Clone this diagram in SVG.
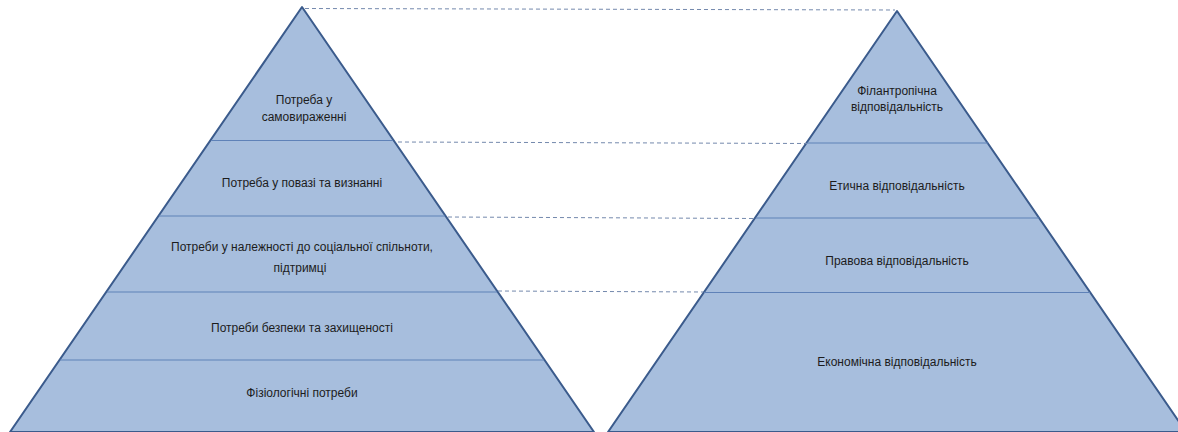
<svg xmlns="http://www.w3.org/2000/svg" width="1178" height="432" viewBox="0 0 1178 432">
<style>
.tri{fill:#a7bedd;stroke:#3b5b8c;stroke-width:2;stroke-linejoin:round}
.div{stroke:#5f82b8;stroke-width:1.2;fill:none}
.dash{stroke:#7489ad;stroke-width:1;stroke-dasharray:4 3;fill:none}
text{font-family:"Liberation Sans",Arial,sans-serif;font-size:12px;fill:#1c1c1c;text-anchor:middle}
</style>
<rect width="1178" height="432" fill="#ffffff"/>
<g id="left-pyramid">
<polygon class="tri" points="302,7 10,432 594,432"/>
<line class="div" x1="211" y1="140.5" x2="393" y2="140.5"/>
<line class="div" x1="159" y1="216" x2="445" y2="216"/>
<line class="div" x1="107" y1="292" x2="497" y2="292"/>
<line class="div" x1="60" y1="360" x2="544" y2="360"/>
</g>
<g id="right-pyramid">
<polygon class="tri" points="897,11 608,432 1186,432"/>
<line class="div" x1="807" y1="143" x2="988" y2="143"/>
<line class="div" x1="756" y1="218" x2="1039" y2="218"/>
<line class="div" x1="704" y1="292.5" x2="1090" y2="292.5"/>
</g>
<g id="connectors">
<line class="dash" x1="305" y1="8.5" x2="895" y2="10"/>
<line class="dash" x1="398" y1="142" x2="807" y2="143.5"/>
<line class="dash" x1="448" y1="217" x2="755" y2="218.5"/>
<line class="dash" x1="498" y1="291" x2="703" y2="292"/>
</g>
<g id="n1"><text x="304" y="104">Потреба у</text><text x="304" y="121">самовираженні</text></g>
<g id="n2"><text x="302" y="187">Потреба у повазі та визнанні</text></g>
<g id="n3"><text x="302" y="251">Потреби у належності до соціальної спільноти,</text><text x="300" y="272">підтримці</text></g>
<g id="n4"><text x="302" y="332">Потреби безпеки та захищеності</text></g>
<g id="n5"><text x="302" y="397">Фізіологічні потреби</text></g>
<g id="r1"><text x="897" y="95">Філантропічна</text><text x="897" y="111">відповідальність</text></g>
<g id="r2"><text x="897" y="190">Етична відповідальність</text></g>
<g id="r3"><text x="897" y="265">Правова відповідальність</text></g>
<g id="r4"><text x="897" y="366">Економічна відповідальність</text></g>
</svg>
